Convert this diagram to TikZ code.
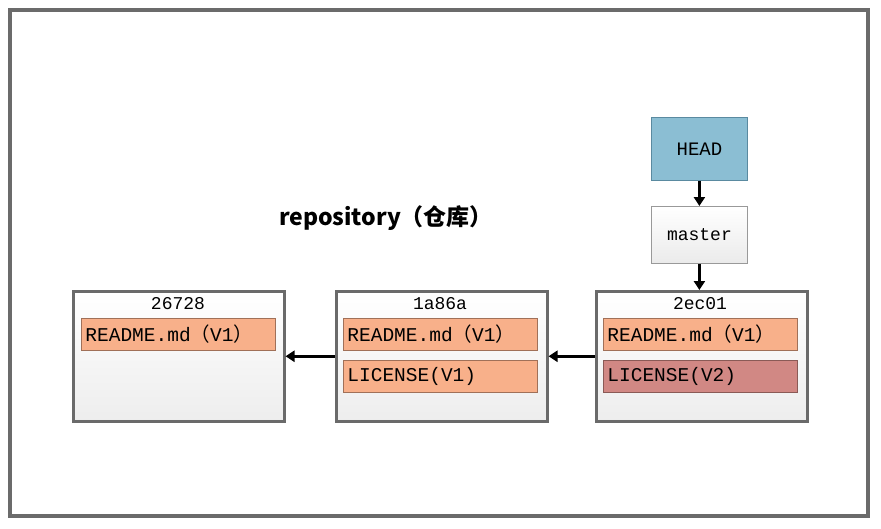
\documentclass[tikz,border=0pt]{standalone}
\usepackage{fontspec}
\usetikzlibrary{arrows.meta}
\newfontfamily\cjkfont{Noto Sans CJK SC}
\newfontfamily\monofont{Liberation Mono}
\definecolor{frame}{HTML}{6B6B6B}
\definecolor{boxline}{HTML}{6A6A6A}
\definecolor{filefill}{HTML}{F8B08A}
\definecolor{fileline}{HTML}{A07058}
\definecolor{v2fill}{HTML}{D18884}
\definecolor{v2line}{HTML}{8A5A56}
\definecolor{headfill}{HTML}{8BBED3}
\definecolor{headline}{HTML}{5A8AA0}
\tikzset{
  commitbox/.style={draw=boxline, line width=2.5pt, top color=white, bottom color=black!7, minimum width=211pt, minimum height=130pt, anchor=north west, inner sep=0pt},
  filebox/.style={draw=fileline, line width=0.8pt, fill=filefill, minimum width=194pt, minimum height=32pt, anchor=north west, inner sep=4pt, text width=186pt, align=left, font=\monofont\fontsize{19.5}{21}\selectfont},
  titletext/.style={font=\monofont\fontsize{18}{20}\selectfont, inner sep=0pt},
  conn/.style={line width=2.8pt, -{Triangle[length=9pt,width=11pt]}},
}
\begin{document}
\begin{tikzpicture}[x=1pt,y=-1pt]
\useasboundingbox (0,0) rectangle (881,528);
\fill[white] (0,0) rectangle (881,528);
\draw[frame, line width=3.5pt] (10,10) rectangle (868,516);

\node[font=\cjkfont\bfseries\fontsize{23}{25}\selectfont, inner sep=0pt] (repo) at (386,218) {repository（仓库）};

% HEAD and master
\node[draw=headline, line width=0.8pt, fill=headfill, minimum width=96pt, minimum height=63pt, anchor=north west, font=\monofont\fontsize{19}{21}\selectfont] (head) at (651,117) {HEAD};
\node[draw=black!40, line width=0.8pt, top color=white, bottom color=black!8, minimum width=96pt, minimum height=57pt, anchor=north west, font=\monofont\fontsize{18}{20}\selectfont] (master) at (651,206) {master};

% commits
\node[commitbox] (c1) at (72,290) {};
\node[commitbox] (c2) at (335,290) {};
\node[commitbox] (c3) at (595,290) {};

\node[titletext] (t1) at (178,304) {26728};
\node[titletext] (t2) at (440,304) {1a86a};
\node[titletext] (t3) at (700,304) {2ec01};

\node[filebox] (f1a) at (81,318) {README.md{\cjkfont（}V1{\cjkfont）}};
\node[filebox] (f2a) at (343,318) {README.md{\cjkfont（}V1{\cjkfont）}};
\node[filebox] (f2b) at (343,360) {LICENSE(V1)};
\node[filebox] (f3a) at (603,318) {README.md{\cjkfont（}V1{\cjkfont）}};
\node[filebox, fill=v2fill, draw=v2line] (f3b) at (603,360) {LICENSE(V2)};

% connectors
\draw[conn] (head.south) -- (master.north);
\draw[conn] (master.south) -- (master.south |- c3.north);
\draw[conn] (c3.west) -- (c2.east);
\draw[conn] (c2.west) -- (c1.east);
\end{tikzpicture}
\end{document}
